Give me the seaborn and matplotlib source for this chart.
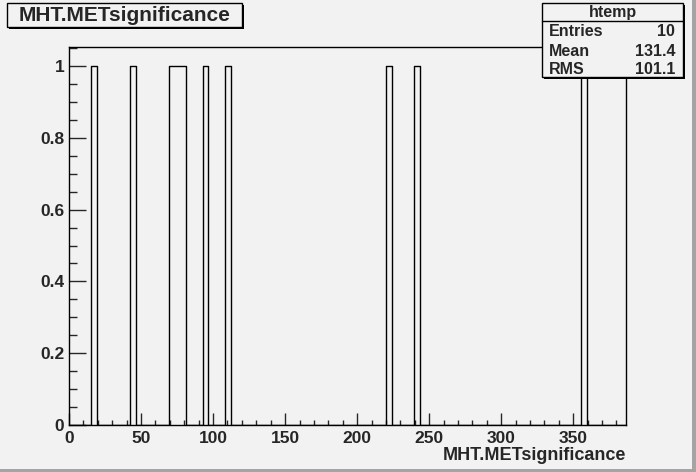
import numpy as np
import matplotlib
matplotlib.use("Agg")
import matplotlib.pyplot as plt
from matplotlib.patches import Rectangle
from matplotlib.ticker import MultipleLocator, FuncFormatter
import seaborn as sns

# MHT.METsignificance values (one entry per bin)
met_significance = [17.4, 44.5, 71.5, 75.4, 79.3, 94.7, 110.2, 222.3, 241.6, 357.6]
n_bins = 100
x_range = (0, 386.6)
y_max = 1.053

hist_name = "htemp"
var_name = "MHT.METsignificance"
stats_labels = ["Entries", "Mean", "RMS"]
stats_values = ["10", "131.4", "101.1"]

BG = "#f2f2f2"
W, H = 696, 472

sns.set_style("ticks")
plt.rcParams["font.family"] = ["Liberation Sans", "DejaVu Sans"]
plt.rcParams["font.weight"] = "bold"


def fx(px):
    return px / W


def fy(py):
    return 1 - py / H


def box(fig, x0, y0, x1, y1, shadow=2):
    """ ROOT style pave with a black drop shadow (pixel coords). """
    fig.patches.append(Rectangle((fx(x0 + shadow), fy(y1 + shadow)), fx(x1 - x0), (y1 - y0) / H,
                                 transform=fig.transFigure, facecolor="black", edgecolor="none", zorder=2))
    fig.patches.append(Rectangle((fx(x0), fy(y1)), fx(x1 - x0), (y1 - y0) / H,
                                 transform=fig.transFigure, facecolor=BG, edgecolor="black",
                                 linewidth=1, zorder=3))


fig = plt.figure(figsize=(6.96, 4.72), dpi=100)
fig.patch.set_facecolor(BG)

# canvas bevel on right and bottom
fig.patches.append(Rectangle((fx(692), 0), fx(4), 1, transform=fig.transFigure,
                             facecolor="#a4a4a4", edgecolor="none"))
fig.patches.append(Rectangle((0, 0), 1, 3.5 / H, transform=fig.transFigure,
                             facecolor="#a4a4a4", edgecolor="none"))

ax = fig.add_axes([fx(69), fy(425), fx(626 - 69), (425 - 47) / H])
ax.set_facecolor(BG)

sns.histplot(x=met_significance, bins=n_bins, binrange=x_range, element="step",
             fill=False, color="black", linewidth=1, ax=ax)

ax.set_xlim(*x_range)
ax.set_ylim(0, y_max)
ax.set_xlabel("")
ax.set_ylabel("")

ax.xaxis.set_major_locator(MultipleLocator(50))
ax.xaxis.set_minor_locator(MultipleLocator(10))
ax.yaxis.set_major_locator(MultipleLocator(0.2))
ax.yaxis.set_minor_locator(MultipleLocator(0.05))
ax.yaxis.set_major_formatter(FuncFormatter(lambda v, p: f"{v:g}"))
ax.xaxis.set_major_formatter(FuncFormatter(lambda v, p: f"{v:g}"))

ax.tick_params(axis="x", which="major", direction="in", length=9, width=1, pad=4.5, labelsize=12.5)
ax.tick_params(axis="x", which="minor", direction="in", length=3.8, width=1)
ax.tick_params(axis="y", which="major", direction="in", length=12.5, width=1, pad=3.5, labelsize=12.5)
ax.tick_params(axis="y", which="minor", direction="in", length=6, width=1)
for lab in ax.get_xticklabels() + ax.get_yticklabels():
    lab.set_fontweight("bold")
for s in ax.spines.values():
    s.set_visible(True)
    s.set_linewidth(1)
    s.set_color("black")

# x axis title, right aligned with the frame
fig.text(fx(626), fy(455), var_name, ha="right", va="center", fontsize=13, fontweight="bold")

# histogram title pave
box(fig, 7, 3, 242, 27)
fig.text(fx(124.5), fy(15.5), var_name, ha="center", va="center", fontsize=15,
         fontweight="bold", zorder=4)

# stats pave
box(fig, 542, 3, 683, 77)
fig.add_artist(plt.Line2D([fx(542), fx(683)], [fy(21), fy(21)], transform=fig.transFigure,
                          color="black", linewidth=1, zorder=4))
fig.text(fx(612.5), fy(12), hist_name, ha="center", va="center", fontsize=11.5,
         fontweight="bold", zorder=4)
for i, (lab, val) in enumerate(zip(stats_labels, stats_values)):
    yy = fy(32 + 19 * i)
    fig.text(fx(549), yy, lab, ha="left", va="center", fontsize=11.5, fontweight="bold", zorder=4)
    fig.text(fx(675), yy, val, ha="right", va="center", fontsize=11.5, fontweight="bold", zorder=4)

fig.savefig("out.png", dpi=100, facecolor=BG)
